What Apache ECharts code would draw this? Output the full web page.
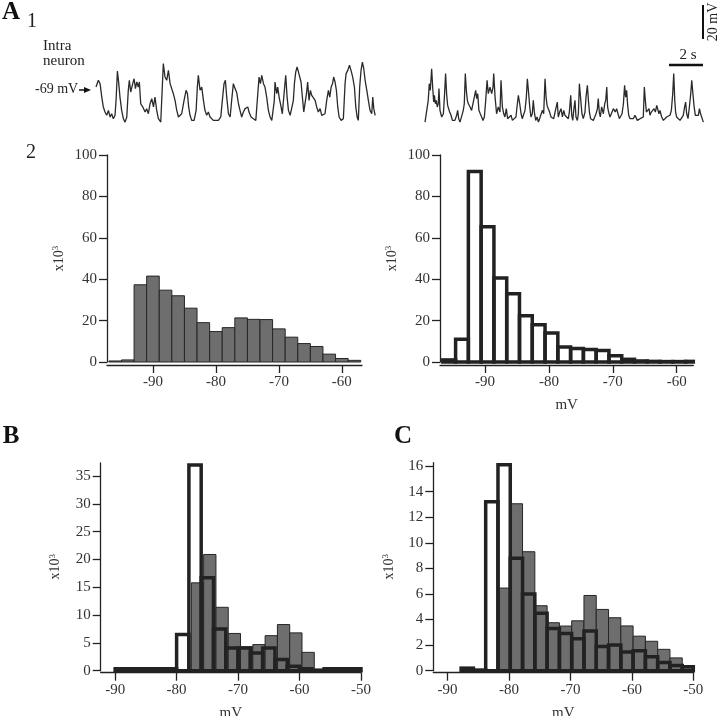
<!DOCTYPE html>
<html><head><meta charset="utf-8">
<script src="https://cdn.jsdelivr.net/npm/echarts@6/dist/echarts.min.js"></script>
<style>html,body{margin:0;padding:0;background:#fff}#c{width:720px;height:716px}</style>
</head><body><div id="c"></div>
<script>
// ---- A1 traces: [time (s), membrane potential (mV)] ----
const leftTrace = [[0.00,-67.1],[0.14,-63.1],[0.24,-65.1],[0.34,-73.0],[0.43,-78.8],[0.53,-81.8],[0.63,-83.7],[0.73,-80.8],[0.83,-84.7],[0.92,-82.8],[1.02,-85.7],[1.12,-83.7],[1.18,-74.9],[1.26,-57.7],[1.34,-65.1],[1.41,-73.0],[1.51,-80.8],[1.61,-85.7],[1.71,-87.7],[1.81,-84.7],[1.90,-69.0],[1.96,-63.1],[2.04,-70.0],[2.16,-65.1],[2.24,-62.2],[2.32,-68.0],[2.40,-64.1],[2.49,-67.1],[2.55,-64.1],[2.63,-76.9],[2.75,-78.8],[2.89,-81.8],[2.98,-79.8],[3.08,-82.8],[3.18,-76.9],[3.28,-73.9],[3.38,-78.8],[3.47,-73.0],[3.57,-80.8],[3.67,-85.7],[3.81,-87.7],[3.92,-87.7],[3.96,-53.3],[4.06,-61.2],[4.16,-63.1],[4.26,-57.3],[4.36,-65.1],[4.45,-65.1],[4.55,-71.0],[4.65,-74.9],[4.75,-80.8],[4.85,-84.7],[4.94,-85.7],[5.04,-82.8],[5.18,-74.9],[5.30,-69.0],[5.38,-71.0],[5.45,-78.8],[5.53,-83.7],[5.63,-86.7],[5.77,-86.7],[5.89,-80.8],[5.96,-67.1],[6.02,-60.2],[6.12,-69.0],[6.22,-67.1],[6.32,-74.9],[6.41,-80.8],[6.51,-83.7],[6.61,-81.8],[6.71,-84.7],[6.81,-85.7],[6.90,-86.7],[7.20,-86.7],[7.34,-84.7],[7.45,-73.0],[7.53,-65.1],[7.61,-63.1],[7.69,-73.0],[7.79,-82.8],[7.89,-84.7],[7.98,-74.9],[8.08,-65.1],[8.18,-68.0],[8.28,-70.5],[8.38,-76.9],[8.47,-80.8],
[8.57,-84.7],[8.67,-81.8],[8.77,-79.8],[8.87,-80.8],[8.93,-78.8],[9.00,-81.8],[9.12,-84.7],[9.26,-85.7],[9.40,-86.7],[9.51,-87.7],[9.59,-61.2],[9.67,-65.1],[9.75,-60.2],[9.85,-65.1],[9.94,-67.1],[10.04,-73.0],[10.14,-80.8],[10.24,-84.7],[10.34,-86.7],[10.43,-85.7],[10.49,-74.9],[10.53,-64.1],[10.63,-71.0],[10.69,-67.1],[10.77,-73.0],[10.87,-77.9],[10.96,-82.8],[11.08,-69.0],[11.16,-60.2],[11.24,-73.0],[11.32,-80.8],[11.42,-83.7],[11.51,-84.7],[11.61,-74.9],[11.67,-65.1],[11.75,-58.2],[11.83,-55.3],[11.91,-54.3],[11.96,-60.2],[12.06,-64.1],[12.14,-73.0],[12.22,-81.8],[12.30,-82.8],[12.38,-71.0],[12.45,-64.1],[12.53,-74.9],[12.61,-69.0],[12.69,-72.0],[12.79,-73.0],[12.89,-74.9],[12.98,-78.8],[13.08,-81.8],[13.18,-79.8],[13.28,-83.7],[13.38,-84.7],[13.47,-82.8],[13.57,-74.9],[13.67,-69.0],[13.75,-73.0],[13.83,-67.1],[13.91,-65.1],[13.98,-61.2],[14.06,-64.1],[14.14,-69.0],[14.22,-78.8],[14.30,-84.7],[14.42,-86.7],[14.55,-85.7],[14.65,-65.1],[14.71,-59.2],[14.81,-57.3],[14.91,-54.3],[15.00,-57.3],[15.10,-61.2],[15.20,-67.1],[15.28,-78.8],[15.36,-84.7],[15.43,-86.7],[15.51,-67.1],[15.59,-57.3],[15.67,-52.4],[15.75,-56.3],[15.83,-63.1],[15.93,-69.0],[16.02,-74.9],[16.12,-80.8],[16.22,-82.8],[16.28,-73.0],[16.34,-79.8],[16.42,-83.7]];
const rightTrace = [[0.06,-87.7],[0.16,-86.7],[0.25,-74.9],[0.31,-65.1],[0.37,-69.0],[0.45,-56.3],[0.51,-67.1],[0.57,-75.9],[0.61,-72.0],[0.67,-76.9],[0.72,-74.9],[0.78,-78.8],[0.84,-76.9],[0.88,-68.0],[0.94,-80.8],[1.04,-84.7],[1.14,-82.8],[1.20,-73.0],[1.27,-59.2],[1.33,-71.0],[1.39,-77.9],[1.45,-78.8],[1.51,-81.8],[1.59,-83.7],[1.67,-86.7],[1.74,-85.7],[1.82,-86.7],[1.92,-83.7],[1.98,-80.8],[2.04,-85.7],[2.12,-87.7],[2.22,-86.7],[2.31,-80.8],[2.37,-76.9],[2.43,-59.2],[2.49,-69.0],[2.55,-74.9],[2.61,-76.9],[2.71,-78.8],[2.80,-80.8],[2.88,-76.9],[2.96,-73.0],[3.04,-69.0],[3.10,-73.9],[3.16,-71.0],[3.23,-80.8],[3.31,-82.8],[3.39,-84.7],[3.47,-86.7],[3.55,-84.7],[3.63,-74.9],[3.71,-63.1],[3.78,-71.0],[3.88,-67.1],[3.98,-71.0],[4.06,-67.1],[4.10,-59.2],[4.18,-73.0],[4.27,-82.8],[4.37,-78.8],[4.47,-81.8],[4.53,-63.1],[4.61,-78.8],[4.69,-82.8],[4.76,-84.7],[4.84,-79.8],[4.92,-85.7],[5.02,-86.7],[5.12,-83.7],[5.20,-86.7],[5.31,-87.7],[5.41,-84.7],[5.47,-78.8],[5.55,-72.0],[5.63,-76.9],[5.71,-82.8],[5.78,-85.7],[5.86,-84.7],[5.94,-80.8],[6.02,-73.0],[6.08,-62.2],[6.14,-69.0],[6.22,-78.8],[6.29,-84.7],[6.37,-82.8],[6.43,-74.9],[6.49,-81.8],[6.57,-86.7],[6.65,-84.7],[6.73,-87.7],[6.80,-85.7],[6.88,-84.7],[6.96,-80.8],[7.04,-82.8],[7.12,-62.2],[7.18,-73.0],[7.24,-77.9],[7.31,-79.8],[7.39,-81.8],[7.47,-84.7],[7.55,-83.7],[7.63,-85.7],[7.71,-81.8],[7.76,-82.8],[7.84,-75.9],[7.90,-84.7],[7.98,-81.8],[8.06,-79.8],[8.14,-84.7],[8.22,-80.8],[8.29,-83.7],
[8.39,-84.7],[8.49,-85.7],[8.55,-81.8],[8.63,-72.0],[8.69,-83.7],[8.75,-86.7],[8.82,-79.8],[8.88,-74.9],[8.94,-84.7],[9.02,-86.7],[9.08,-82.8],[9.14,-65.1],[9.20,-64.1],[9.24,-76.9],[9.29,-82.8],[9.37,-85.7],[9.47,-81.8],[9.53,-73.0],[9.61,-66.1],[9.67,-74.9],[9.73,-81.8],[9.80,-85.7],[9.88,-86.7],[9.96,-86.7],[10.04,-84.7],[10.12,-82.8],[10.20,-79.8],[10.25,-73.9],[10.31,-81.8],[10.37,-84.7],[10.45,-78.8],[10.55,-82.8],[10.63,-76.9],[10.69,-74.9],[10.75,-67.1],[10.80,-78.8],[10.86,-81.8],[10.94,-84.7],[11.04,-85.7],[11.14,-79.8],[11.20,-78.8],[11.25,-81.8],[11.33,-79.8],[11.41,-82.8],[11.49,-85.7],[11.57,-86.7],[11.65,-82.8],[11.73,-76.9],[11.80,-66.1],[11.86,-73.0],[11.92,-69.0],[11.98,-77.9],[12.04,-83.7],[12.12,-85.7],[12.22,-86.7],[12.31,-85.7],[12.41,-83.7],[12.49,-84.7],[12.55,-86.7],[12.63,-87.7],[12.71,-85.7],[12.80,-86.7],[12.90,-84.7],[12.96,-67.1],[13.02,-74.9],[13.08,-81.8],[13.16,-80.8],[13.24,-79.8],[13.29,-83.7],[13.37,-81.8],[13.45,-80.8],[13.53,-79.8],[13.61,-81.8],[13.69,-77.9],[13.76,-78.8],[13.82,-82.8],[13.88,-80.8],[13.98,-84.7],[14.08,-86.7],[14.18,-85.7],[14.27,-84.7],[14.37,-85.7],[14.47,-83.7],[14.55,-80.8],[14.63,-71.0],[14.69,-59.2],[14.75,-74.9],[14.80,-81.8],[14.86,-84.7],[14.96,-85.7],[15.06,-86.7],[15.16,-85.7],[15.25,-83.7],[15.33,-78.8],[15.39,-75.9],[15.45,-82.8],[15.53,-85.7],[15.61,-78.8],[15.69,-71.0],[15.75,-63.1],[15.80,-69.0],[15.88,-77.9],[15.96,-83.7],[16.04,-84.7],[16.14,-83.7],[16.20,-79.8],[16.27,-82.8],[16.35,-81.8],[16.43,-87.7]];

// ---- histograms: counts (x10^3) per 2 mV bin, first bin left edge ----
const binWidth = 2;
const a2LeftStart = -97;
const a2LeftCounts = [0.5, 1, 37.3, 41.5, 34.7, 32, 26, 19, 14.7, 16.6, 21.3, 20.6, 20.5, 16, 12, 8.9, 7.5, 3.8, 1.7, 0.8];
const a2RightStart = -96.6;
const a2RightCounts = [1, 11, 92, 65.3, 40.6, 33, 22.4, 18, 14, 7.3, 6.5, 6, 5.6, 3, 1.3, 0.5, 0.3, 0.2, 0.2, 0.3];
const bGrayStart = -77.6;
const bGrayCounts = [15.8, 20.9, 11.4, 6.7, 4.3, 4.7, 6.3, 8.3, 6.8, 3.3];
const bOpenStart = -90;
const bOpenCounts = [0.35, 0.35, 0.35, 0.35, 0.35, 6.5, 37, 16.7, 7.5, 4.1, 4.1, 3.2, 4.1, 2.0, 0.8, 0.35, 0.1, 0.35, 0.35, 0.35];
const cGrayStart = -81.8;
const cGrayCounts = [6.46, 13.05, 9.3, 5.08, 3.75, 3.49, 3.9, 5.88, 4.79, 4.14, 3.5, 2.7, 2.3, 1.67, 1.0, 0.4];
const cOpenStart = -87.8;
const cOpenCounts = [0.2, 0.05, 13.2, 16.1, 8.8, 6.0, 4.5, 3.3, 2.9, 2.5, 3.1, 1.9, 2.0, 1.46, 1.56, 1.1, 0.65, 0.4, 0.3];

// ---- tick values ----
const a2XTicks = [-90, -80, -70, -60];
const a2YTicks = [0, 20, 40, 60, 80, 100];
const bcXTicks = [-90, -80, -70, -60, -50];
const bYTicks = [0, 5, 10, 15, 20, 25, 30, 35];
const cYTicks = [0, 2, 4, 6, 8, 10, 12, 14, 16];

const FONT = 'Liberation Serif';
const INK = '#222';
const chart = echarts.init(document.getElementById('c'), null, {renderer: 'canvas'});

const grids = [
  {left: 96, top: 58, width: 280, height: 68},
  {left: 424, top: 58, width: 280, height: 68},
  {left: 107, top: 155, width: 255, height: 207},
  {left: 440, top: 155, width: 253.3, height: 207},
  {left: 100.7, top: 463, width: 260.3, height: 207.7},
  {left: 433.3, top: 462.7, width: 260, height: 208}
].map(g => Object.assign(g, {outerBoundsMode: 'none', containLabel: false}));

function xAx(gi, min, max, ticks, offset, name, gap) {
  return {
    type: 'value', gridIndex: gi, min, max, offset, position: 'bottom',
    axisLine: {show: true, onZero: false, lineStyle: {color: INK, width: 1.3}},
    axisTick: {show: true, length: 8, customValues: ticks, lineStyle: {color: INK, width: 1.3}},
    axisLabel: {customValues: ticks, margin: 10, color: '#333', fontFamily: FONT, fontSize: 15},
    splitLine: {show: false},
    name: name || '', nameLocation: 'middle', nameGap: gap || 33,
    nameTextStyle: {color: '#333', fontFamily: FONT, fontSize: 15}
  };
}
function yAx(gi, min, max, ticks, gap) {
  return {
    type: 'value', gridIndex: gi, min, max, position: 'left',
    axisLine: {show: true, onZero: false, lineStyle: {color: INK, width: 1.3}},
    axisTick: {show: true, length: 8, customValues: ticks, lineStyle: {color: INK, width: 1.3}},
    axisLabel: {customValues: ticks, margin: 10, color: '#333', fontFamily: FONT, fontSize: 15},
    splitLine: {show: false},
    name: 'x10{s|3}', nameLocation: 'middle', nameGap: gap, nameRotate: 90,
    nameTextStyle: {color: '#333', fontFamily: FONT, fontSize: 14,
      rich: {s: {fontSize: 9, fontFamily: FONT, color: '#333', verticalAlign: 'top', padding: [0, 0, 7, 0]}}}
  };
}
function hiddenAx(gi, min, max) {
  return {type: 'value', gridIndex: gi, min, max, show: false, splitLine: {show: false}};
}

function hist(ai, start, counts, kind, xmax) {
  const data = counts.map((v, i) => [start + i * binWidth, Math.min(start + (i + 1) * binWidth, xmax), v]);
  const style = kind === 'gray'
    ? {fill: '#6e6e6e', stroke: '#262626', lineWidth: 1}
    : {fill: 'none', stroke: INK, lineWidth: 3.5};
  return {
    type: 'custom', xAxisIndex: ai, yAxisIndex: ai, z: kind === 'gray' ? 2 : 3, clip: false,
    encode: {x: [0, 1], y: 2}, data, silent: true,
    renderItem: (params, api) => {
      const p0 = api.coord([api.value(0), 0]);
      const p1 = api.coord([api.value(1), api.value(2)]);
      return {type: 'rect', shape: {x: p0[0], y: p1[1], width: p1[0] - p0[0], height: p0[1] - p1[1]}, style};
    }
  };
}

const option = {
  backgroundColor: '#fff',
  animation: false,
  grid: grids,
  xAxis: [
    hiddenAx(0, 0, 16.47),
    hiddenAx(1, 0, 16.47),
    xAx(2, -97.3, -56.8, a2XTicks, 3, ''),
    xAx(3, -97.04, -57.4, a2XTicks, 3, 'mV', 33),
    xAx(4, -92.35, -50, bcXTicks, 2, 'mV', 33),
    xAx(5, -92.33, -50, bcXTicks, 2, 'mV', 33)
  ],
  yAxis: [
    hiddenAx(0, -90, -50),
    hiddenAx(1, -90, -50),
    yAx(2, 0, 100, a2YTicks, 40),
    yAx(3, 0, 100, a2YTicks, 40),
    yAx(4, 0, 37.35, bYTicks, 37),
    yAx(5, 0, 16.26, cYTicks, 36)
  ],
  series: [
    {type: 'line', xAxisIndex: 0, yAxisIndex: 0, data: leftTrace, showSymbol: false, lineStyle: {color: '#2a2a2a', width: 1.3}},
    {type: 'line', xAxisIndex: 1, yAxisIndex: 1, data: rightTrace, showSymbol: false, lineStyle: {color: '#2a2a2a', width: 1.3}},
    hist(2, a2LeftStart, a2LeftCounts, 'gray', -56.8),
    hist(3, a2RightStart, a2RightCounts, 'open', -57.4),
    hist(4, bGrayStart, bGrayCounts, 'gray', -50),
    hist(4, bOpenStart, bOpenCounts, 'open', -50),
    hist(5, cGrayStart, cGrayCounts, 'gray', -50),
    hist(5, cOpenStart, cOpenCounts, 'open', -50)
  ],
  graphic: [
    {type: 'text', left: 2, top: 0, style: {text: 'A', font: 'bold 25px ' + FONT, fill: '#111'}},
    {type: 'text', left: 27, top: 12, style: {text: '1', font: '20px ' + FONT, fill: '#222'}},
    {type: 'text', left: 43, top: 39, style: {text: 'Intra', font: '15px ' + FONT, fill: '#222'}},
    {type: 'text', left: 43, top: 54, style: {text: 'neuron', font: '15px ' + FONT, fill: '#222'}},
    {type: 'text', left: 35, top: 82, style: {text: '-69 mV', font: '14px ' + FONT, fill: '#222'}},
    {type: 'line', shape: {x1: 79, y1: 90, x2: 86, y2: 90}, style: {stroke: '#111', lineWidth: 1.5}},
    {type: 'polygon', shape: {points: [[84, 87], [91, 90], [84, 93]]}, style: {fill: '#111'}},
    {type: 'line', shape: {x1: 703, y1: 5, x2: 703, y2: 39}, style: {stroke: '#111', lineWidth: 2}},
    {type: 'text', x: 713, y: 22, rotation: Math.PI / 2, style: {text: '20 mV', font: '14px ' + FONT, fill: '#222', align: 'center', verticalAlign: 'middle'}},
    {type: 'line', shape: {x1: 669, y1: 65, x2: 703, y2: 65}, style: {stroke: '#111', lineWidth: 2.5}},
    {type: 'text', x: 688, y: 55, style: {text: '2 s', font: '15px ' + FONT, fill: '#222', align: 'center', verticalAlign: 'middle'}},
    {type: 'text', x: 31, y: 153, style: {text: '2', font: '20px ' + FONT, fill: '#222', align: 'center', verticalAlign: 'middle'}},
    {type: 'text', x: 11, y: 437, style: {text: 'B', font: 'bold 25px ' + FONT, fill: '#111', align: 'center', verticalAlign: 'middle'}},
    {type: 'text', x: 403, y: 437, style: {text: 'C', font: 'bold 25px ' + FONT, fill: '#111', align: 'center', verticalAlign: 'middle'}}
  ]
};
chart.setOption(option);
</script>
</body></html>
